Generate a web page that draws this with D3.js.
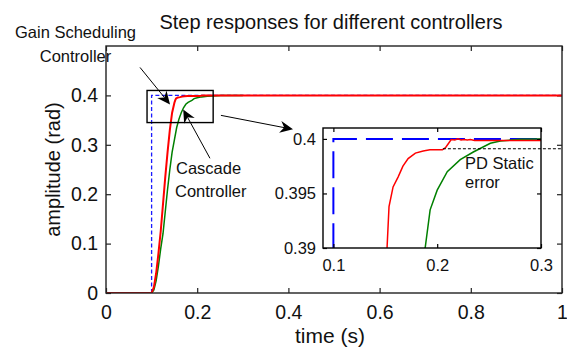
<!DOCTYPE html>
<html>
<head>
<meta charset="utf-8">
<script src="https://cdn.jsdelivr.net/npm/d3@7"></script>
<style>
  html, body { margin: 0; padding: 0; background: #fff; }
  svg { display: block; }
  text { font-family: "Liberation Sans", Arial, sans-serif; fill: #111; }
</style>
</head>
<body>
<svg id="chart" width="567" height="347"></svg>
<script>
// ---------- data ----------
const xTicks = [0, 0.2, 0.4, 0.6, 0.8, 1];
const yTicks = [0, 0.1, 0.2, 0.3, 0.4];
const insetXTicks = [0.1, 0.2, 0.3];
const insetYTicks = [0.39, 0.395, 0.4];

// reference step (blue dashed)
const blueT = [0, 0.1, 0.1, 1];
const blueV = [0, 0, 0.4, 0.4];

// Gain Scheduling controller (red)
const redT = [0, 0.1, 0.105, 0.11, 0.115, 0.12, 0.125, 0.13, 0.135, 0.14, 0.145, 0.15, 0.1517, 0.1536, 0.1575, 0.1623, 0.167, 0.172, 0.179, 0.1865, 0.193, 0.205, 0.208, 0.211, 0.2135, 0.217, 0.22, 0.223, 0.226, 0.229, 0.232, 0.236, 1.0];
const redV = [0, 0, 0.012, 0.04, 0.08, 0.125, 0.18, 0.235, 0.285, 0.33, 0.365, 0.385, 0.39, 0.3938, 0.3956, 0.3965, 0.3975, 0.3982, 0.3987, 0.3989, 0.399, 0.399, 0.3992, 0.3996, 0.39995, 0.3999, 0.4, 0.3999, 0.39995, 0.3999, 0.39995, 0.39985, 0.39985];

// Cascade controller (green)
const greenT = [0, 0.1, 0.105, 0.11, 0.115, 0.12, 0.125, 0.13, 0.135, 0.14, 0.145, 0.15, 0.155, 0.16, 0.165, 0.17, 0.175, 0.18, 0.1884, 0.1932, 0.2, 0.2097, 0.2222, 0.2348, 0.2512, 0.2609, 0.28, 0.3];
const greenV = [0, 0, 0.006, 0.025, 0.055, 0.09, 0.12, 0.165, 0.21, 0.25, 0.285, 0.31, 0.335, 0.352, 0.365, 0.375, 0.382, 0.386, 0.39, 0.3935, 0.3953, 0.397, 0.3981, 0.3988, 0.3996, 0.3998, 0.39998, 0.4];

// PD static error level (inset coords)
const pdLevel = 0.3991;
const pdStartT = 0.2055;

// zoom box in main-axis coordinates [t0, t1, a0, a1]
const zoomBox = [0.09, 0.235, 0.345, 0.41];

// annotation arrows in main-axis coordinates: [fromT, fromA, toT, toA]
const arrows = [
  [0.0746, 0.4566, 0.1404, 0.3818],
  [0.228, 0.2727, 0.1693, 0.3717],
  [0.252, 0.3596, 0.4101, 0.3313]
];

// ---------- layout ----------
const svg = d3.select("#chart");
const M = { left: 106, right: 562, top: 46, bottom: 293 };
const I = { left: 323, right: 541, top: 128, bottom: 248 };
const axisColor = "#222";

const x = d3.scaleLinear().domain([0, 1]).range([M.left, M.right]);
const y = d3.scaleLinear().domain([0, 0.5]).range([M.bottom, M.top]);
const xi = d3.scaleLinear().domain([0.09, 0.3]).range([I.left, I.right]);
const yi = d3.scaleLinear().domain([0.39, 0.401]).range([I.bottom, I.top]);

const zip = (a, b) => a.map((d, i) => [d, b[i]]);
const blue = zip(blueT, blueV), red = zip(redT, redV), green = zip(greenT, greenV);

const defs = svg.append("defs");
defs.append("clipPath").attr("id", "clipMain").append("rect")
  .attr("x", M.left).attr("y", M.top).attr("width", M.right - M.left).attr("height", M.bottom - M.top);
defs.append("clipPath").attr("id", "clipInset").append("rect")
  .attr("x", I.left).attr("y", I.top).attr("width", I.right - I.left).attr("height", I.bottom - I.top);

// ---------- title & labels ----------
svg.append("text").attr("x", 331).attr("y", 28.5).attr("text-anchor", "middle")
  .style("font-size", "20px").text("Step responses for different controllers");
svg.append("text").attr("x", 330).attr("y", 343).attr("text-anchor", "middle")
  .style("font-size", "21px").text("time (s)");
svg.append("text").attr("transform", "translate(60," + ((M.top + M.bottom) / 2) + ") rotate(-90)")
  .attr("text-anchor", "middle").style("font-size", "20px").text("amplitude (rad)");

// ---------- main axes ----------
const gx = svg.append("g").attr("transform", `translate(0,${M.bottom})`)
  .call(d3.axisBottom(x).tickValues(xTicks).tickFormat(d => String(d)).tickSize(-5).tickSizeOuter(0).tickPadding(12));
const gxt = svg.append("g").attr("transform", `translate(0,${M.top})`)
  .call(d3.axisTop(x).tickValues(xTicks).tickFormat("").tickSize(-5).tickSizeOuter(0));
const gy = svg.append("g").attr("transform", `translate(${M.left},0)`)
  .call(d3.axisLeft(y).tickValues(yTicks).tickFormat(d => String(d)).tickSize(-5).tickSizeOuter(0).tickPadding(8));
const gyr = svg.append("g").attr("transform", `translate(${M.right},0)`)
  .call(d3.axisRight(y).tickValues(yTicks).tickFormat("").tickSize(-5).tickSizeOuter(0));
[gx, gxt, gy, gyr].forEach(g => {
  g.select(".domain").remove();
  g.selectAll(".tick line").attr("stroke", axisColor).attr("stroke-width", 1.2);
  g.selectAll("text").style("font-size", "19.5px").attr("fill", "#111")
    .style("font-family", '"Liberation Sans", Arial, sans-serif');
});

// ---------- main lines ----------
const lineMain = d3.line().x(d => x(d[0])).y(d => y(d[1]));
const gm = svg.append("g").attr("clip-path", "url(#clipMain)");
gm.append("path").attr("d", lineMain(blue)).attr("fill", "none").attr("stroke", "#1a1aff")
  .attr("stroke-width", 1.3).attr("stroke-dasharray", "4,2.5");
gm.append("path").attr("d", lineMain(green)).attr("fill", "none").attr("stroke", "#008000").attr("stroke-width", 1.5);
gm.append("path").attr("d", lineMain(red)).attr("fill", "none").attr("stroke", "#ff0000").attr("stroke-width", 2);

svg.append("rect").attr("x", M.left).attr("y", M.top).attr("width", M.right - M.left).attr("height", M.bottom - M.top)
  .attr("fill", "none").attr("stroke", axisColor).attr("stroke-width", 1.4);

// zoom box
svg.append("rect").attr("x", x(zoomBox[0])).attr("y", y(zoomBox[3]))
  .attr("width", x(zoomBox[1]) - x(zoomBox[0])).attr("height", y(zoomBox[2]) - y(zoomBox[3]))
  .attr("fill", "none").attr("stroke", "#000").attr("stroke-width", 1.4);

// ---------- inset ----------
svg.append("rect").attr("x", I.left).attr("y", I.top).attr("width", I.right - I.left).attr("height", I.bottom - I.top)
  .attr("fill", "#fff");
const lineInset = d3.line().x(d => xi(d[0])).y(d => yi(d[1]));
const gi = svg.append("g").attr("clip-path", "url(#clipInset)");
gi.append("path").attr("d", lineInset(blue)).attr("fill", "none").attr("stroke", "#0000ff")
  .attr("stroke-width", 2).attr("stroke-dasharray", "27,9");
gi.append("path").attr("d", lineInset(green)).attr("fill", "none").attr("stroke", "#008000").attr("stroke-width", 1.5);
gi.append("path").attr("d", lineInset(red)).attr("fill", "none").attr("stroke", "#ff0000").attr("stroke-width", 1.5);

const ix = svg.append("g").attr("transform", `translate(0,${I.bottom})`)
  .call(d3.axisBottom(xi).tickValues(insetXTicks).tickFormat(d => String(d)).tickSize(-4).tickSizeOuter(0).tickPadding(11));
const ixt = svg.append("g").attr("transform", `translate(0,${I.top})`)
  .call(d3.axisTop(xi).tickValues(insetXTicks).tickFormat("").tickSize(-4).tickSizeOuter(0));
const iy = svg.append("g").attr("transform", `translate(${I.left},0)`)
  .call(d3.axisLeft(yi).tickValues(insetYTicks).tickFormat(d => String(d)).tickSize(-4).tickSizeOuter(0).tickPadding(7));
const iyr = svg.append("g").attr("transform", `translate(${I.right},0)`)
  .call(d3.axisRight(yi).tickValues(insetYTicks).tickFormat("").tickSize(-4).tickSizeOuter(0));
[ix, ixt, iy, iyr].forEach(g => {
  g.select(".domain").remove();
  g.selectAll(".tick line").attr("stroke", "#000").attr("stroke-width", 1.2);
  g.selectAll("text").style("font-size", "16.5px").attr("fill", "#111")
    .style("font-family", '"Liberation Sans", Arial, sans-serif');
});
svg.append("rect").attr("x", I.left).attr("y", I.top).attr("width", I.right - I.left).attr("height", I.bottom - I.top)
  .attr("fill", "none").attr("stroke", "#000").attr("stroke-width", 1.4);

// PD static error dotted line
svg.append("line").attr("x1", xi(pdStartT)).attr("x2", x(1)).attr("y1", yi(pdLevel)).attr("y2", yi(pdLevel))
  .attr("stroke", "#000").attr("stroke-width", 1.1).attr("stroke-dasharray", "3,2");

// ---------- annotations ----------
const annFont = "16.5px";
svg.append("text").attr("x", 75.5).attr("y", 38).attr("text-anchor", "middle").style("font-size", annFont).text("Gain Scheduling");
svg.append("text").attr("x", 75.5).attr("y", 62).attr("text-anchor", "middle").style("font-size", annFont).text("Controller");
svg.append("text").attr("x", 176).attr("y", 174).style("font-size", annFont).text("Cascade");
svg.append("text").attr("x", 175).attr("y", 197).style("font-size", annFont).text("Controller");
svg.append("text").attr("x", 465).attr("y", 169).style("font-size", annFont).text("PD Static");
svg.append("text").attr("x", 465).attr("y", 188).style("font-size", annFont).text("error");

arrows.forEach(a => {
  const x1 = x(a[0]), y1 = y(a[1]), x2 = x(a[2]), y2 = y(a[3]);
  const ang = Math.atan2(y2 - y1, x2 - x1);
  const L = 13, W = 6, N = 9;
  const bx = x2 - L * Math.cos(ang), by = y2 - L * Math.sin(ang);
  const nx = x2 - N * Math.cos(ang), ny = y2 - N * Math.sin(ang);
  svg.append("line").attr("x1", x1).attr("y1", y1).attr("x2", nx).attr("y2", ny)
    .attr("stroke", "#000").attr("stroke-width", 1);
  const pts = [
    [x2, y2],
    [bx + W * Math.sin(ang), by - W * Math.cos(ang)],
    [nx, ny],
    [bx - W * Math.sin(ang), by + W * Math.cos(ang)]
  ];
  svg.append("polygon").attr("points", pts.map(p => p.join(",")).join(" ")).attr("fill", "#000");
});
</script>
</body>
</html>
